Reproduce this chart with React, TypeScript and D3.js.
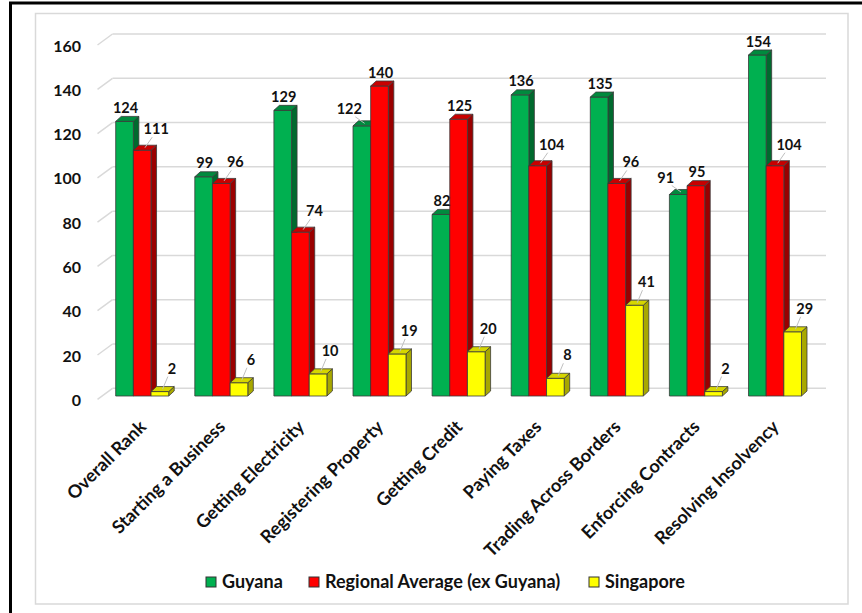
import React from "react";
import * as d3 from "d3";

// Doing Business rankings by indicator
const categories = [
  "Overall Rank",
  "Starting a Business",
  "Getting Electricity",
  "Registering Property",
  "Getting Credit",
  "Paying Taxes",
  "Trading Across Borders",
  "Enforcing Contracts",
  "Resolving Insolvency",
];
const guyana = [124, 99, 129, 122, 82, 136, 135, 91, 154];
const regional = [111, 96, 74, 140, 125, 104, 96, 95, 104];
const singapore = [2, 6, 10, 19, 20, 8, 41, 2, 29];
const seriesNames = ["Guyana", "Regional Average (ex Guyana)", "Singapore"];
const yTicks = [0, 20, 40, 60, 80, 100, 120, 140, 160];

const W = 862;
const H = 613;
const FONT = "Lato, 'Open Sans', sans-serif";

const palette = [
  { front: "#00b050", top: "#008a3e", side: "#006a2e" },
  { front: "#ff0000", top: "#c80000", side: "#9a0000" },
  { front: "#ffff00", top: "#d6d600", side: "#a8a800" },
];

export default function App() {
  const seriesValues = [guyana, regional, singapore];

  // front edge of the floor; the back wall sits up-and-right of it
  const y = d3.scaleLinear().domain([0, 160]).range([399.3, 45]);
  const barLift = 3.3; // bars stand slightly behind the floor's front edge
  const wallDx = 15;
  const wallDy = -11;
  const depthX = 5.5;
  const depthY = -5;

  const x = d3.scaleBand<string>().domain(categories).range([89.6, 827.6]).padding(0.33);
  const xs = d3.scaleBand<number>().domain([0, 1, 2]).range([0, x.bandwidth()]);
  const bw = xs.bandwidth();

  const bars: React.ReactNode[] = [];
  const labels: React.ReactNode[] = [];

  categories.forEach((cat, ci) => {
    seriesValues.forEach((vals, si) => {
      const v = vals[ci];
      const x0 = (x(cat) as number) + (xs(si) as number);
      const x1 = x0 + bw;
      const yb = y(0) - barLift;
      const yt = y(v) - barLift;
      const c = palette[si];
      const front = `M${x0},${yb}L${x1},${yb}L${x1},${yt}L${x0},${yt}Z`;
      const top = `M${x0},${yt}L${x1},${yt}L${x1 + depthX},${yt + depthY}L${x0 + depthX},${yt + depthY}Z`;
      const side = `M${x1},${yb}L${x1 + depthX},${yb + depthY}L${x1 + depthX},${yt + depthY}L${x1},${yt}Z`;
      bars.push(
        <g key={`b${ci}-${si}`} stroke="#3a3a3a" strokeWidth={0.8} strokeLinejoin="round">
          <path d={side} fill={c.side} />
          <path d={front} fill={c.front} />
          <path d={top} fill={c.top} />
        </g>
      );

      // label placement: centred above, or nudged aside with a leader line
      const cx = (x0 + x1) / 2 + 1;
      let lx = cx;
      let ly = yt - 13.5;
      let leader = false;
      if (si === 0) {
        const other = regional[ci];
        if (other > v && other - v < 30) {
          lx = cx - 13.5;
          ly = yt - 17;
          leader = true;
        }
      } else if (si === 1) {
        if (v < guyana[ci]) {
          lx = cx + 13;
          ly = yt - 21;
          leader = true;
        }
      } else {
        lx = cx + 11;
        ly = yt - 23;
        leader = true;
      }
      if (leader) {
        const sx = (x0 + x1) / 2 + depthX / 2;
        const sy = yt + depthY / 2;
        const ex = si === 0 ? lx + 6 : lx - 4;
        labels.push(
          <line key={`l${ci}-${si}`} x1={sx} y1={sy} x2={ex} y2={ly + 8} stroke="#bfbfbf" strokeWidth={1} />
        );
      }
      labels.push(
        <text
          key={`t${ci}-${si}`}
          x={lx}
          y={ly}
          dy="0.35em"
          textAnchor="middle"
          fontFamily={FONT}
          fontWeight={700}
          fontSize={14.5}
          fill="#111"
        >
          {v}
        </text>
      );
    });
  });

  const wallX0 = 97.5 + wallDx;
  const wallX1 = 826;

  const legendItems = [
    { x: 206, name: seriesNames[0], c: palette[0].front },
    { x: 309, name: seriesNames[1], c: palette[1].front },
    { x: 589, name: seriesNames[2], c: palette[2].front },
  ];

  return (
    <div style={{ position: "absolute", left: 0, top: 0 }}>
      <svg width={W} height={H} style={{ display: "block" }}>
        <rect x={0} y={0} width={W} height={H} fill="#fff" />
        <rect x={10.5} y={3} width={W + 20} height={H + 20} fill="none" stroke="#000" strokeWidth={3} />
        <rect x={35.5} y={13.5} width={812.5} height={590.5} fill="none" stroke="#d9d9d9" strokeWidth={1.5} />

        {/* back wall gridlines and floor diagonals */}
        <g stroke="#d9d9d9" strokeWidth={1.5} fill="none">
          {yTicks.map((t) => (
            <g key={`g${t}`}>
              <line x1={97.5} y1={y(t)} x2={wallX0} y2={y(t) + wallDy} />
              <line x1={wallX0} y1={y(t) + wallDy} x2={wallX1} y2={y(t) + wallDy} />
            </g>
          ))}
        </g>

        {/* y axis tick labels */}
        <g fontFamily={FONT} fontWeight={700} fontSize={16} fill="#111" textAnchor="end">
          {yTicks.map((t) => (
            <text key={`y${t}`} x={81} y={y(t) + 1} dy="0.35em">
              {t}
            </text>
          ))}
        </g>

        {bars}
        {labels}

        {/* category labels */}
        <g fontFamily={FONT} fontWeight={700} fontSize={18} fill="#111" textAnchor="end">
          {categories.map((c) => {
            const cx = (x(c) as number) + x.bandwidth() / 2 + 5;
            return (
              <text key={`c${c}`} transform={`translate(${cx},${428}) rotate(-45)`}>
                {c}
              </text>
            );
          })}
        </g>

        {/* legend */}
        <g fontFamily={FONT} fontWeight={700} fontSize={18} fill="#111">
          {legendItems.map((it) => (
            <g key={it.name}>
              <rect x={it.x} y={577} width={10} height={10} fill={it.c} stroke="#333" strokeWidth={1} />
              <text x={it.x + 16} y={582} dy="0.35em">
                {it.name}
              </text>
            </g>
          ))}
        </g>
      </svg>
    </div>
  );
}
